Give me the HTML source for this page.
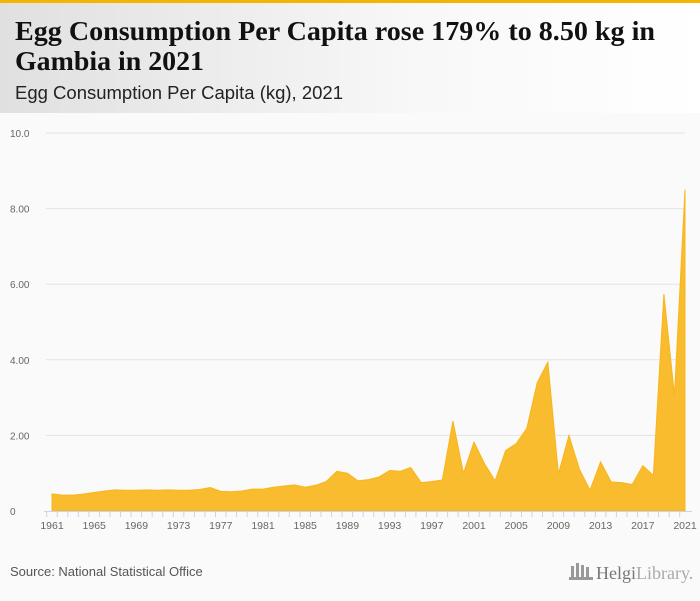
<!DOCTYPE html>
<html><head><meta charset="utf-8"><style>
body{margin:0;width:700px;height:596px;overflow:hidden;background:#fafafa;font-family:"Liberation Sans",sans-serif}
</style></head><body>
<svg id="c" width="700" height="596" xmlns="http://www.w3.org/2000/svg">
<defs><linearGradient id="hg" x1="0" x2="1"><stop offset="0" stop-color="#e0e0e0"/><stop offset="0.6" stop-color="#f8f8f8"/><stop offset="1" stop-color="#ffffff"/></linearGradient></defs>
<rect x="0" y="0" width="700" height="596" fill="#fafafa"/>
<rect x="0" y="3" width="700" height="110" fill="url(#hg)"/>
<rect x="0" y="0" width="700" height="3" fill="#f5b400"/>
<text x="15" y="40" font-family="Liberation Serif,serif" font-weight="bold" font-size="27" fill="#111" textLength="640" lengthAdjust="spacingAndGlyphs">Egg Consumption Per Capita rose 179% to 8.50 kg in</text>
<text x="15" y="70" font-family="Liberation Serif,serif" font-weight="bold" font-size="27" fill="#111" textLength="189" lengthAdjust="spacingAndGlyphs">Gambia in 2021</text>
<text x="15" y="99" font-size="18" fill="#222" textLength="328" lengthAdjust="spacingAndGlyphs">Egg Consumption Per Capita (kg), 2021</text>
<g id="grid"></g><g id="plot"></g><g id="xax"></g>
<text x="10" y="576" font-size="13" fill="#555">Source: National Statistical Office</text>
<g>
<rect x="571" y="566" width="3" height="12" fill="#999"/><rect x="576" y="563" width="3" height="15" fill="#999"/><rect x="581" y="565" width="3" height="13" fill="#999"/><rect x="586" y="567" width="3" height="11" fill="#999"/><rect x="569" y="577" width="24" height="3" fill="#999"/>
<text x="596" y="579" font-family="Liberation Serif,serif" font-size="18" fill="#777">Helgi<tspan fill="#aaa">Library.</tspan></text></g>
</svg>
<script>
const years=[];for(let y=1961;y<=2021;y++)years.push(y);
const values=[0.45,0.42,0.42,0.45,0.49,0.53,0.56,0.55,0.55,0.56,0.55,0.56,0.55,0.55,0.57,0.62,0.52,0.51,0.53,0.58,0.58,0.63,0.66,0.69,0.63,0.68,0.78,1.05,1.0,0.8,0.83,0.9,1.07,1.05,1.15,0.75,0.78,0.82,2.38,1.0,1.82,1.25,0.8,1.6,1.78,2.18,3.4,3.94,0.98,2.0,1.1,0.55,1.3,0.77,0.75,0.7,1.2,0.94,5.74,3.05,8.5];
const yTicks=[0,2,4,6,8,10];
const yTickLabels=["0","2.00","4.00","6.00","8.00","10.0"];
const xLabelYears=[1961,1965,1969,1973,1977,1981,1985,1989,1993,1997,2001,2005,2009,2013,2017,2021];
const NS="http://www.w3.org/2000/svg";
const X0=52,X1=685,Y0=511,Y1=133;
const sx=v=>X0+(v-1961)/(2021-1961)*(X1-X0);
const sy=v=>Y0-v/10*(Y0-Y1);
function mk(t,a,p){const e=document.createElementNS(NS,t);for(const k in a)e.setAttribute(k,a[k]);p.appendChild(e);return e;}
const grid=document.getElementById('grid');
yTicks.forEach((t,i)=>{
 if(t>0){const l=mk('line',{x1:46,x2:685,y1:sy(t),y2:sy(t),stroke:'#e3e3e3','stroke-width':1},grid);
 
 }
 const tx=mk('text',{x:10,y:sy(t)+4,'font-size':10,fill:'#666'},grid);tx.textContent=yTickLabels[i];
 
 
});
const plot=document.getElementById('plot');
let d='M'+sx(years[0])+','+Y0;
years.forEach((y,i)=>{d+=' L'+sx(y)+','+sy(values[i]);});
d+=' L'+sx(years[years.length-1])+','+Y0+' Z';
const area=mk('path',{d:d,fill:'#f9bc2f',stroke:'#f7b61a','stroke-width':1},plot);


const xa=document.getElementById('xax');
const ax=mk('line',{x1:44,x2:692,y1:Y0+0.5,y2:Y0+0.5,stroke:'#c8d4e8'},xa);


years.forEach(y=>{const tk=mk('line',{x1:sx(y)-5.3,x2:sx(y)-5.3,y1:Y0,y2:Y0+6,stroke:'#c8d4e8'},xa);
 
 });
xLabelYears.forEach(y=>{const t=mk('text',{x:sx(y),y:Y0+18,'font-size':10.5,fill:'#666','text-anchor':'middle'},xa);t.textContent=y;
 
 });
</script>
</body></html>
